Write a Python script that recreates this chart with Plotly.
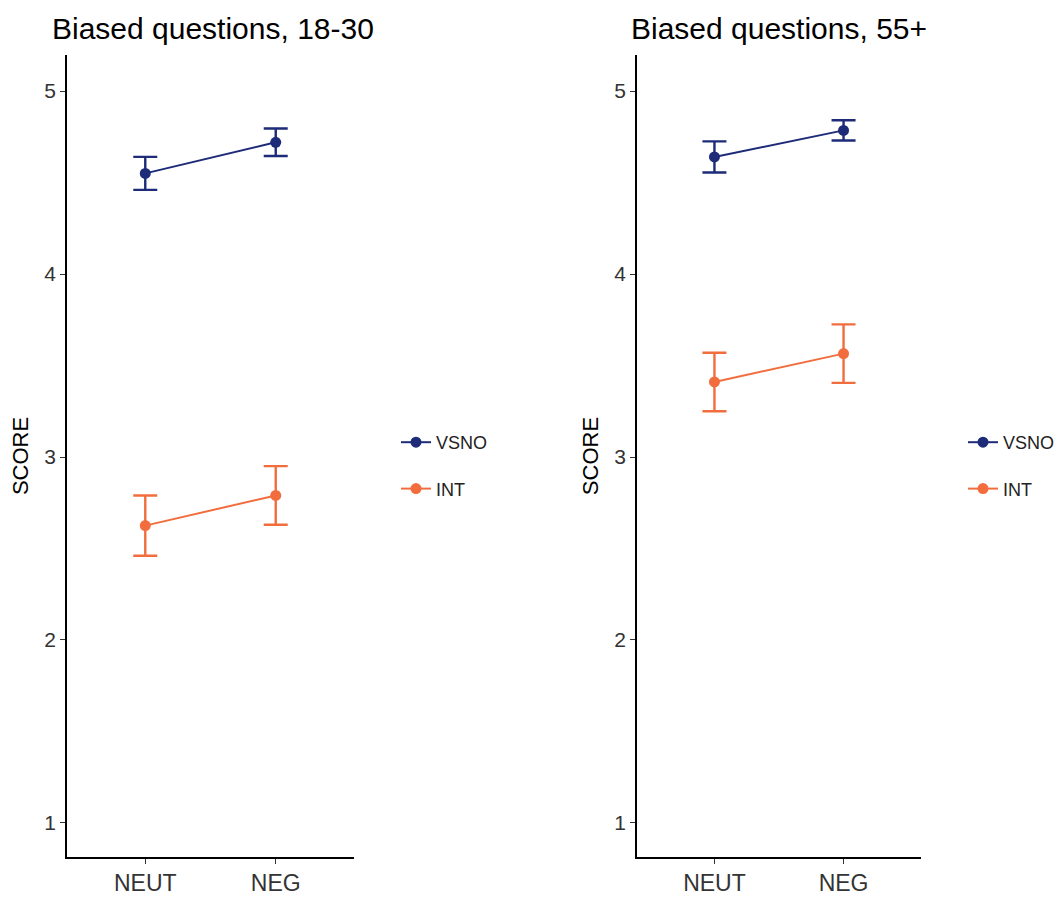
import plotly.graph_objects as go

# Conditions on the x axis
conditions = ["NEUT", "NEG"]

# Mean scores and error half-widths, panel 1: ages 18-30
young_vsno = [4.55, 4.72]
young_vsno_err = [0.09, 0.075]
young_int = [2.625, 2.79]
young_int_err = [0.165, 0.16]

# Panel 2: ages 55+
old_vsno = [4.64, 4.785]
old_vsno_err = [0.085, 0.055]
old_int = [3.41, 3.565]
old_int_err = [0.16, 0.16]

panel_titles = ["Biased questions, 18-30", "Biased questions, 55+"]
y_ticks = [1, 2, 3, 4, 5]

NAVY = "#1d2b78"
ORANGE = "#f26d3d"
FONT = "Liberation Sans, Arial, sans-serif"
W, H = 1060, 898

fig = go.Figure()


def add_series(x_ax, y_ax, values, errs, name, color, legend):
    fig.add_trace(go.Scatter(
        x=conditions, y=values, name=name,
        xaxis=x_ax, yaxis=y_ax, legend=legend,
        legendgroup=legend + name,
        mode="lines+markers",
        line=dict(color=color, width=2),
        marker=dict(color=color, size=11),
        error_y=dict(type="data", array=errs, visible=True,
                     color=color, thickness=2.4, width=12),
    ))


add_series("x", "y", young_vsno, young_vsno_err, "VSNO", NAVY, "legend")
add_series("x", "y", young_int, young_int_err, "INT", ORANGE, "legend")
add_series("x2", "y2", old_vsno, old_vsno_err, "VSNO", NAVY, "legend2")
add_series("x2", "y2", old_int, old_int_err, "INT", ORANGE, "legend2")

# Panel frames in pixels: (left, right) of each plot area, shared top/bottom
panels = [(67, 354), (637, 921)]
title_left_px = [50, 629]
top_px, bottom_px = 55, 857
y_dom = [1 - bottom_px / H, 1 - top_px / H]

axis_common = dict(
    showline=True, linecolor="black", linewidth=1.6,
    ticks="outside", ticklen=5, tickwidth=1.4, tickcolor="#333333",
    showgrid=False, zeroline=False,
)

for i, (l, r) in enumerate(panels):
    sfx = "" if i == 0 else str(i + 1)
    fig.update_layout(**{
        "xaxis" + sfx: dict(
            domain=[l / W, r / W], anchor="y" + sfx,
            type="category", range=[-0.6, 1.6],
            tickfont=dict(family=FONT, size=23, color="#333333"),
            **axis_common,
        ),
        "yaxis" + sfx: dict(
            domain=y_dom, anchor="x" + sfx,
            range=[0.814, 5.197], tickvals=y_ticks,
            tickfont=dict(family=FONT, size=21, color="#333333"),
            title=dict(text="SCORE", font=dict(family=FONT, size=22, color="black"),
                       standoff=10),
            **axis_common,
        ),
    })
    fig.add_annotation(
        text=panel_titles[i], xref="paper", yref="paper",
        x=title_left_px[i] / W, y=1 - 10 / H, xanchor="left", yanchor="top",
        showarrow=False, font=dict(family=FONT, size=30, color="black"),
    )

legend_common = dict(
    font=dict(family=FONT, size=18, color="#222222"),
    bgcolor="rgba(0,0,0,0)", xanchor="left", yanchor="top",
    tracegroupgap=20, itemwidth=30,
)
fig.update_layout(
    legend=dict(x=396 / W, y=1 - 424 / H, **legend_common),
    legend2=dict(x=963 / W, y=1 - 424 / H, **legend_common),
)

fig.update_layout(
    width=W, height=H,
    margin=dict(l=0, r=0, t=0, b=0),
    paper_bgcolor="white", plot_bgcolor="white",
    showlegend=True,
)

fig.write_html("out.html")
